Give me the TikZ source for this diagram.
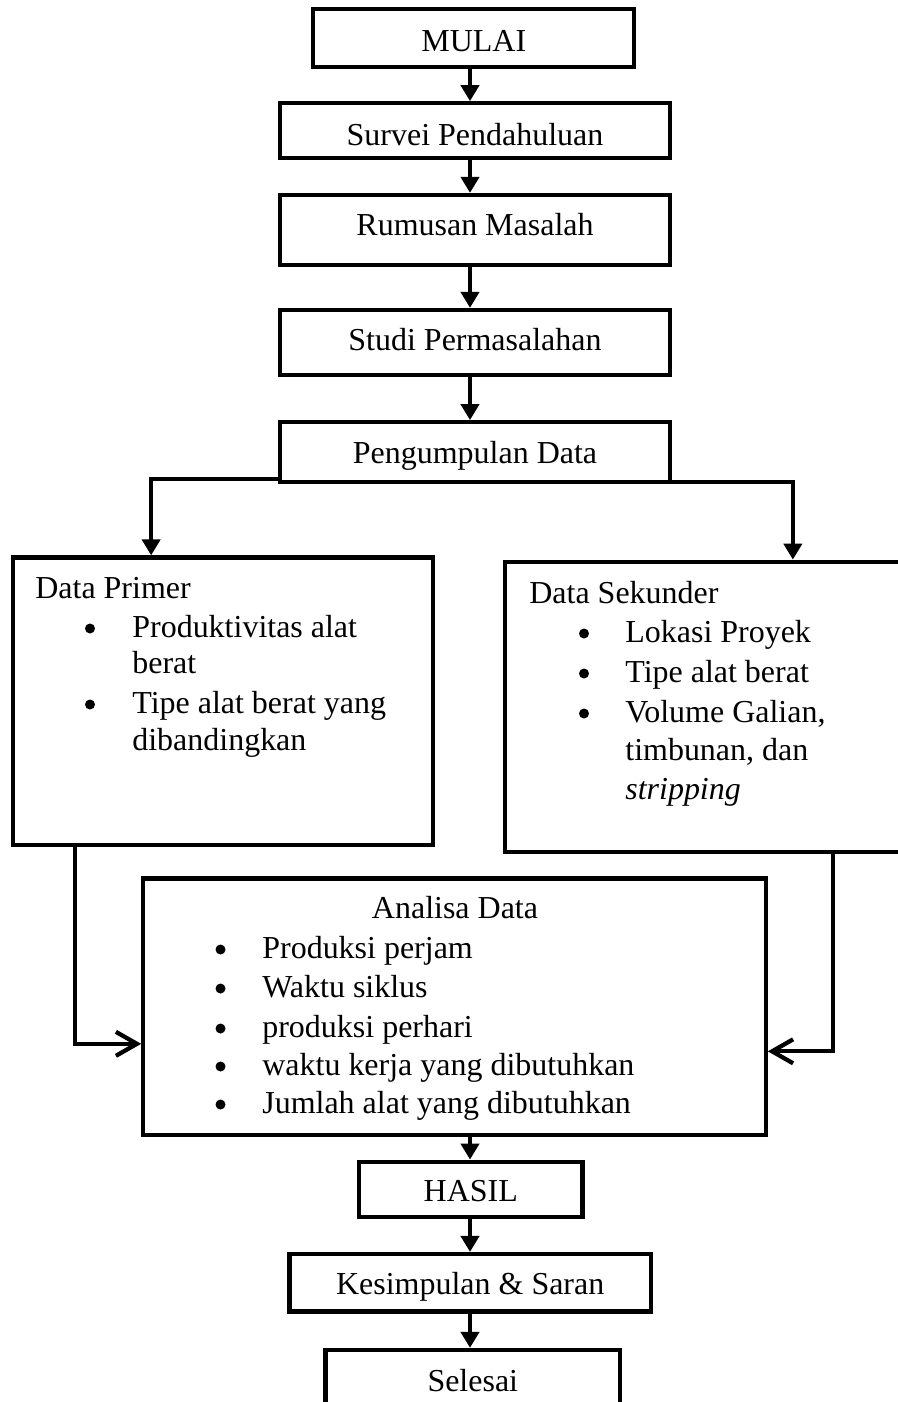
\documentclass[tikz,border=0pt]{standalone}
\usepackage{fontspec}
\setmainfont{Liberation Serif}
\usetikzlibrary{arrows.meta}
\tikzset{box/.style = {draw, line width=0.085cm, rectangle, inner sep=0pt, text height=0.48cm, text depth=0cm},
         txt/.style = {inner sep=0pt, anchor=base west},
         dot/.style = {circle, fill, inner sep=0pt, minimum size=0.2cm},
         flow/.style = {line width=0.085cm, -{Triangle[length=0.32cm, width=0.36cm]}},
         feed/.style = {line width=0.085cm, -{Straight Barb[length=0.42cm, width=0.48cm]}}}
\begin{document}
\begin{tikzpicture}[x=0.02cm, y=-0.02cm, font=\fontsize{18.2}{22}\selectfont]
        \useasboundingbox (0,0) rectangle (898,1402);
        \coordinate (axis) at (470,0);

        % main column
        \node[box, minimum width=6.42cm, minimum height=1.16cm, text height=0.55cm] (mulai) at (473.8,38) {MULAI};
        \node[box, minimum width=7.8cm, minimum height=1.1cm, text height=0.6cm] (survei) at (475,130.8) {Survei Pendahuluan};
        \node[box, minimum width=7.8cm, minimum height=1.4cm, text height=0.24cm] (rumusan) at (475,230) {Rumusan Masalah};
        \node[box, minimum width=7.8cm, minimum height=1.3cm, text height=0.3cm] (studi) at (475,342.5) {Studi Permasalahan};
        \node[box, minimum width=7.8cm, minimum height=1.19cm, text height=0.44cm] (peng) at (475,452) {Pengumpulan Data};

        % data boxes
        \node[box, minimum width=8.41cm, minimum height=5.75cm] (prim) at (223,701.2) {};
        \node[box, minimum width=8.1cm, minimum height=5.8cm] (sek) at (707.5,706.7) {};
        \node[box, minimum width=12.45cm, minimum height=5.13cm] (ana) at (454.5,1006.7) {};

        \node[txt] (primtitle) at (35,598) {Data Primer};
        \node[dot] (pa) at (90,628.5) {};
        \node[txt] (pa1) at (132,637) {Produktivitas alat};
        \node[txt] (pa2) at (132,673) {berat};
        \node[dot] (pb) at (90,704.5) {};
        \node[txt] (pb1) at (132,713) {Tipe alat berat yang};
        \node[txt] (pb2) at (132,750) {dibandingkan};

        \node[txt] (sektitle) at (529,603) {Data Sekunder};
        \node[dot] (sa) at (584,633.5) {};
        \node[txt] (sa1) at (625,642) {Lokasi Proyek};
        \node[dot] (sb) at (584,673.5) {};
        \node[txt] (sb1) at (625,682) {Tipe alat berat};
        \node[dot] (sc) at (584,713.5) {};
        \node[txt] (sc1) at (625,722) {Volume Galian,};
        \node[txt] (sc2) at (625,760) {timbunan, dan};
        \node[txt] (sc3) at (625,799) {\textit{stripping}};

        \node[inner sep=0pt, anchor=base] (anatitle) at (455,918) {Analisa Data};
        \node[dot] (aa) at (220.5,949.5) {};
        \node[txt] (aa1) at (262,958) {Produksi perjam};
        \node[dot] (ab) at (220.5,988.5) {};
        \node[txt] (ab1) at (262,997) {Waktu siklus};
        \node[dot] (ac) at (220.5,1028.5) {};
        \node[txt] (ac1) at (262,1037) {produksi perhari};
        \node[dot] (ad) at (220.5,1066.5) {};
        \node[txt] (ad1) at (262,1075) {waktu kerja yang dibutuhkan};
        \node[dot] (ae) at (220.5,1104.5) {};
        \node[txt] (ae1) at (262,1113) {Jumlah alat yang dibutuhkan};

        % end column
        \node[box, minimum width=4.47cm, minimum height=1.1cm, text height=0.5cm] (hasil) at (470.8,1189.2) {HASIL};
        \node[box, minimum width=7.23cm, minimum height=1.15cm] (kesimpulan) at (470.2,1282.8) {Kesimpulan \& Saran};
        \node[box, minimum width=5.89cm, minimum height=1.2cm, text height=0.47cm] (selesai) at (472.8,1380) {Selesai};

        % connectors
        \draw[flow] (mulai.south -| axis) -- (survei.north -| axis);
        \draw[flow] (survei.south -| axis) -- (rumusan.north -| axis);
        \draw[flow] (rumusan.south -| axis) -- (studi.north -| axis);
        \draw[flow] (studi.south -| axis) -- (peng.north -| axis);
        \draw[flow] ([yshift=0.1cm]peng.south west) -| ([xshift=2.81cm]prim.north west);
        \draw[flow] ([yshift=0.04cm]peng.south east) -| ([xshift=5.8cm]sek.north west);
        \draw[feed] ([xshift=1.29cm]prim.south west) |- ([yshift=-3.35cm]ana.north west);
        \draw[feed] ([xshift=6.6cm]sek.south west) |- ([yshift=-3.5cm]ana.north east);
        \draw[flow] (ana.south -| axis) -- (hasil.north -| axis);
        \draw[flow] (hasil.south -| axis) -- (kesimpulan.north -| axis);
        \draw[flow] (kesimpulan.south -| axis) -- (selesai.north -| axis);
\end{tikzpicture}
\end{document}
